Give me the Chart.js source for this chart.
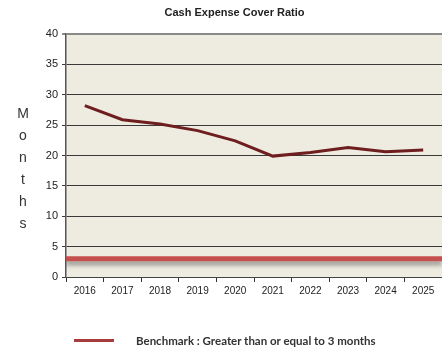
<!DOCTYPE html>
<html>
<head>
<meta charset="utf-8">
<script src="https://cdn.jsdelivr.net/npm/chart.js@4/dist/chart.umd.min.js"></script>
<style>
  html, body { margin: 0; padding: 0; background: #fff; }
  #wrap { position: relative; width: 442px; height: 351px; overflow: hidden; }
  #ratioChart { position: absolute; left: 0; top: 0; }
  .title {
    position: absolute; left: 0; width: 469px; top: 6px; text-align: center;
    font: bold 11px "Liberation Sans", Arial, sans-serif; color: #222;
  }
  .ylabel {
    position: absolute; left: 13px; top: 102px; width: 20px; text-align: center;
    font: 14px "Liberation Sans", Arial, sans-serif; color: #333; line-height: 22px;
  }
  .legend { position: absolute; left: 74px; top: 334px; height: 16px; }
  .legend .swatch { position: absolute; left: 0; top: 5px; width: 40px; height: 3px; background: #a63c3b; }
  .legend .text {
    position: absolute; left: 62px; top: 0; white-space: nowrap;
    font: bold 11.5px Lato, "Open Sans", sans-serif; color: #333;
  }
</style>
</head>
<body>
<div id="wrap">
  <canvas id="ratioChart" width="442" height="351"></canvas>
  <div class="title">Cash Expense Cover Ratio</div>
  <div class="ylabel">M<br>o<br>n<br>t<br>h<br>s</div>
  <div class="legend"><div class="swatch"></div><div class="text">Benchmark : Greater than or equal to 3 months</div></div>
</div>
<script>
// ---- data ----
const years = ['2016', '2017', '2018', '2019', '2020', '2021', '2022', '2023', '2024', '2025'];
const coverMonths = [28.2, 25.9, 25.2, 24.1, 22.4, 19.9, 20.5, 21.3, 20.6, 20.9];
const benchmarkMonths = [3, 3];      // edge to edge across the plot
const yTicks = [0, 5, 10, 15, 20, 25, 30, 35, 40];

const fontFamily = '"Liberation Sans", Arial, sans-serif';

// beige plot fill
const plotBackground = {
  id: 'plotBackground',
  beforeDraw(chart) {
    const { ctx, chartArea: a } = chart;
    ctx.save();
    ctx.fillStyle = '#eeebe0';
    ctx.fillRect(a.left, a.top, a.right - a.left, a.bottom - a.top);
    ctx.restore();
  }
};

// soft drop shadow under the benchmark line
const benchmarkShadow = {
  id: 'benchmarkShadow',
  beforeDatasetDraw(chart, args) {
    if (args.index !== 1) return;
    const ctx = chart.ctx;
    ctx.save();
    ctx.shadowColor = 'rgba(70, 70, 70, 0.5)';
    ctx.shadowBlur = 4;
    ctx.shadowOffsetY = 4;
  },
  afterDatasetDraw(chart, args) {
    if (args.index !== 1) return;
    chart.ctx.restore();
  }
};

new Chart(document.getElementById('ratioChart'), {
  type: 'line',
  data: {
    labels: years,
    datasets: [
      {
        label: 'Cash Expense Cover Ratio',
        data: coverMonths,
        borderColor: '#6e1e1f',
        borderWidth: 3,
        pointRadius: 0,
        tension: 0,
        fill: false
      },
      {
        label: 'Benchmark : Greater than or equal to 3 months',
        data: benchmarkMonths.map((v, i) => ({ x: i, y: v })),
        xAxisID: 'xb',
        borderColor: '#c5504e',
        borderWidth: 5,
        pointRadius: 0,
        fill: false
      }
    ]
  },
  plugins: [plotBackground, benchmarkShadow],
  options: {
    responsive: false,
    animation: false,
    layout: { padding: { top: 34, right: 0, left: 0, bottom: 0 } },
    plugins: {
      legend: { display: false },
      title: { display: false },
      tooltip: { enabled: false }
    },
    scales: {
      x: {
        type: 'category',
        offset: true,
        grid: {
          offset: true,
          drawOnChartArea: false,
          tickLength: 5,
          color: '#333',
          tickWidth: 1
        },
        border: { color: '#444', width: 1 },
        ticks: {
          color: '#222',
          font: { family: fontFamily, size: 10 },
          padding: 3,
          maxRotation: 0,
          autoSkip: false
        },
        afterFit(scale) { scale.height = 74; }
      },
      xb: {
        type: 'linear',
        display: false,
        min: 0,
        max: benchmarkMonths.length - 1
      },
      y: {
        min: 0,
        max: 40,
        afterBuildTicks(scale) { scale.ticks = yTicks.map(v => ({ value: v })); },
        grid: {
          color: ctx => ctx.tick && ctx.tick.value === 40 ? '#8a8a8a' : '#3a3a3a',
          lineWidth: ctx => ctx.tick && ctx.tick.value === 40 ? 2 : 1,
          tickLength: 4
        },
        border: { color: '#555', width: 1.5 },
        ticks: {
          color: '#222',
          font: { family: fontFamily, size: 11 },
          padding: 4
        },
        afterFit(scale) { scale.width = 66; }
      }
    }
  }
});
</script>
</body>
</html>
